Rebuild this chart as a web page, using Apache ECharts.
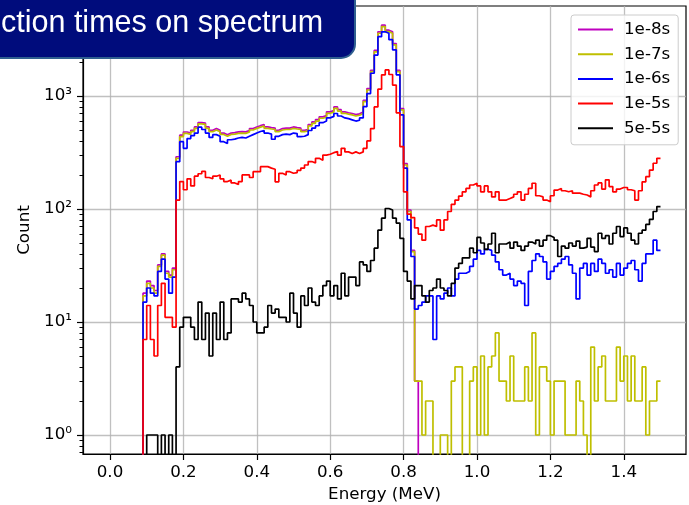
<!DOCTYPE html>
<html><head><meta charset="utf-8">
<script src="https://cdn.jsdelivr.net/npm/echarts@6/dist/echarts.min.js"></script>
<style>html,body{margin:0;padding:0;background:#fff}#c{width:689px;height:505px}</style>
</head><body><div id="c"></div>
<script>
// Histogram bins: left edges start at 0.09 MeV, width 0.01 MeV (0.09 ... 1.49)
const binStart = 0.09;
const binWidth = 0.01;

const seriesNames = ['1e-8s', '1e-7s', '1e-6s', '1e-5s', '5e-5s'];

const counts1e8 = [
  18, 23, 21, 19, 32, 40, 28, 26, 30, 290,
  450, 480, 470, 497, 532, 582, 576, 532, 497, 515,
  497, 470, 453, 470, 474, 481, 484, 481, 494, 515,
  532, 546, 559, 532, 525, 520, 497, 515, 520, 520,
  532, 525, 520, 497, 505, 559, 590, 618, 654, 670,
  724, 742, 800, 757, 724, 711, 700, 685, 695, 721,
  917, 1164, 1690, 2534, 3698, 4233, 3821, 3698, 2915, 1690,
  775, 252, 98, 43, 3, 0, 0, 0, 0, 0,
  0, 0, 0, 0, 0, 0, 0, 0, 0, 0,
  0, 0, 0, 0, 0, 0, 0, 0, 0, 0,
  0, 0, 0, 0, 0, 0, 0, 0, 0, 0,
  0, 0, 0, 0, 0, 0, 0, 0, 0, 0,
  0, 0, 0, 0, 0, 0, 0, 0, 0, 0,
  0, 0, 0, 0, 0, 0, 0, 0, 0, 0,
  0
];
const counts1e7 = [
  17, 22, 20, 18, 31, 39, 27, 25, 29, 281,
  437, 467, 457, 483, 517, 566, 560, 517, 483, 500,
  483, 457, 440, 457, 460, 467, 470, 467, 480, 500,
  517, 530, 543, 517, 510, 505, 483, 500, 505, 505,
  517, 510, 505, 483, 490, 543, 573, 600, 635, 650,
  703, 720, 777, 735, 703, 690, 680, 665, 675, 700,
  890, 1130, 1640, 2460, 3590, 4110, 3710, 3590, 2830, 1640,
  752, 245, 95, 42, 3, 3, 1, 2, 2, 0,
  0, 1, 1, 0, 3, 4, 4, 0, 0, 3,
  4, 1, 5, 1, 4, 5, 8, 3, 3, 2,
  5, 2, 2, 2, 4, 2, 8, 1, 4, 4,
  3, 1, 3, 3, 3, 1, 1, 1, 3, 2,
  1, 0, 6, 2, 4, 5, 2, 2, 2, 6,
  3, 5, 2, 5, 2, 2, 4, 1, 2, 2,
  3
];
const counts1e6 = [
  15, 20, 18, 17, 28, 36, 24, 18, 25, 262,
  394, 344, 420, 445, 470, 530, 505, 470, 430, 455,
  440, 394, 380, 410, 415, 425, 430, 425, 440, 455,
  470, 485, 495, 470, 460, 414, 440, 455, 460, 455,
  470, 465, 437, 440, 455, 495, 520, 545, 580, 600,
  640, 660, 700, 665, 640, 630, 615, 600, 610, 640,
  805, 1050, 1590, 2300, 3350, 3700, 3590, 3150, 2560, 1540,
  680, 230, 80, 38, 13, 14, 15, 17, 17, 7,
  17, 16, 18, 20, 17, 24, 27, 27, 28, 31,
  36, 43, 40, 44, 43, 39, 34, 29, 26, 27,
  24, 21, 23, 22, 14, 28, 35, 40, 38, 34,
  24, 28, 31, 33, 36, 38, 32, 27, 16, 30,
  33, 26, 33, 28, 36, 33, 27, 29, 25, 33,
  26, 30, 33, 35, 29, 23, 33, 40, 40, 53,
  43
];
const counts1e5 = [
  7, 14, 7, 5, 14, 22, 11, 11, 9, 120,
  175, 148, 185, 160, 195, 205, 215, 190, 185, 195,
  200, 185, 175, 180, 170, 165, 175, 200, 200, 190,
  214, 214, 237, 237, 230, 225, 174, 207, 200, 214,
  207, 210, 220, 230, 245, 263, 255, 281, 270, 300,
  305, 315, 322, 300, 344, 320, 310, 320, 310, 320,
  344, 400, 515, 800, 1150, 1540, 1700, 1550, 1250, 710,
  357, 142, 90, 84, 68, 60, 53, 70, 72, 70,
  80, 65, 80, 95, 110, 120, 130, 142, 152, 163,
  169, 160, 142, 160, 142, 128, 142, 120, 120, 124,
  128, 135, 142, 120, 135, 152, 169, 131, 128, 120,
  116, 131, 147, 152, 145, 142, 145, 138, 138, 135,
  133, 128, 145, 163, 170, 150, 181, 158, 142, 150,
  155, 155, 148, 145, 120, 145, 174, 193, 221, 254,
  281
];
const counts5e5 = [
  0, 1, 1, 1, 0, 1, 0, 1, 0, 4,
  9, 11, 11, 9, 7, 15, 7, 12, 5, 12,
  7, 15, 7, 8, 16, 16, 15, 18, 16, 14,
  10, 8, 8, 9, 14, 12, 13, 11, 11, 10,
  18, 12, 9, 17, 14, 20, 15, 14, 17, 21,
  23, 17, 21, 16, 27, 17, 25, 25, 21, 34,
  32, 28, 35, 45, 65, 83, 101, 98, 83, 75,
  55, 28, 23, 16, 21, 21, 17, 15, 19, 20,
  24, 20, 19, 17, 22, 30, 33, 37, 37, 45,
  41, 56, 50, 44, 49, 61, 41, 49, 49, 51,
  45, 51, 47, 43, 47, 51, 49, 53, 47, 53,
  58, 56, 53, 38, 47, 45, 50, 47, 52, 45,
  46, 55, 46, 42, 61, 55, 58, 49, 61, 70,
  57, 68, 61, 53, 49, 61, 65, 73, 81, 95,
  105
];

const xTicks = [0.0, 0.2, 0.4, 0.6, 0.8, 1.0, 1.2, 1.4];
const yTicks = [1, 10, 100, 1000];
const yTickLabels = ['10\u2070', '10\u00B9', '10\u00B2', '10\u00B3'];
const seriesColors = ['#bf00bf', '#bfbf00', '#0000ff', '#ff0000', '#000000'];

const allCounts = [counts1e8, counts1e7, counts1e6, counts1e5, counts5e5];

// zero counts sit below the visible log range (clipped like matplotlib)
const FLOOR = 0.1;
function stepPoints(counts) {
  const pts = [[+(binStart - binWidth).toFixed(4), FLOOR]];
  counts.forEach((c, i) => {
    pts.push([+(binStart + i * binWidth).toFixed(4), c > 0 ? c : FLOOR]);
  });
  const last = counts[counts.length - 1];
  pts.push([+(binStart + counts.length * binWidth).toFixed(4), last > 0 ? last : FLOOR]);
  return pts;
}

const yMinor = [];
for (let e = -1; e <= 3; e++) {
  for (let m = 2; m <= 9; m++) yMinor.push(m * Math.pow(10, e));
}

const FONT = 'DejaVu Sans';
const FS = 16.7;

const chart = echarts.init(document.getElementById('c'), null, {renderer: 'canvas'});
chart.setOption({
  animation: false,
  backgroundColor: '#ffffff',
  grid: {
    left: 83, right: 3, top: 6, bottom: 51,
    show: true, borderColor: '#000', borderWidth: 1.2,
    containLabel: false, outerBoundsMode: 'none'
  },
  legend: {
    orient: 'vertical', left: 571, top: 15,
    padding: [6, 8, 8, 6],
    itemWidth: 35, itemHeight: 14, itemGap: 7.7,
    backgroundColor: 'rgba(255,255,255,0.8)',
    borderColor: '#cccccc', borderWidth: 1, borderRadius: 3,
    selectedMode: false,
    itemStyle: {opacity: 0, borderWidth: 0, color: 'transparent'},
    textStyle: {fontSize: FS, color: '#000', fontFamily: FONT, padding: [0, 0, 0, 6]},
    data: seriesNames
  },
  xAxis: {
    type: 'value', min: -0.0736, max: 1.5695,
    name: 'Energy (MeV)', nameLocation: 'middle', nameGap: 30,
    nameTextStyle: {fontSize: FS, color: '#000', fontFamily: FONT},
    axisLine: {show: true, onZero: false, lineStyle: {color: '#000', width: 1.2}},
    axisTick: {show: true, customValues: xTicks, length: 6, lineStyle: {color: '#000', width: 1.2}},
    axisLabel: {customValues: xTicks, formatter: v => (+v).toFixed(1), margin: 10,
      fontSize: FS, color: '#000', fontFamily: FONT},
    splitLine: {show: true, lineStyle: {color: '#b0b0b0', width: 1.3, opacity: 0.8}}
  },
  yAxis: [{
    type: 'log', logBase: 10, min: 0.679, max: 6256,
    name: 'Count', nameLocation: 'middle', nameGap: 45,
    nameTextStyle: {fontSize: FS, color: '#000', fontFamily: FONT},
    axisLine: {show: true, onZero: false, lineStyle: {color: '#000', width: 1.2}},
    axisTick: {show: true, customValues: yTicks, length: 6, lineStyle: {color: '#000', width: 1.2}},
    axisLabel: {customValues: yTicks, margin: 11, fontSize: FS, color: '#000', fontFamily: FONT,
      formatter: v => {
        const idx = yTicks.findIndex(t => Math.abs(Math.log10(t) - Math.log10(v)) < 1e-6);
        return idx >= 0 ? yTickLabels[idx] : '';
      }},
    splitLine: {show: true, lineStyle: {color: '#b0b0b0', width: 1.3, opacity: 0.8}}
  }, {
    type: 'log', logBase: 10, min: 0.679, max: 6256, position: 'left',
    axisLine: {show: false, onZero: false},
    axisTick: {show: true, customValues: yMinor, length: 3.5, lineStyle: {color: '#000', width: 1}},
    axisLabel: {show: false},
    splitLine: {show: false}
  }],
  series: seriesNames.map((n, i) => ({
    name: n, type: 'line', step: 'end', symbol: 'none', showSymbol: false,
    clip: true, yAxisIndex: 0,
    data: stepPoints(allCounts[i]),
    lineStyle: {color: seriesColors[i], width: 1.7},
    itemStyle: {color: seriesColors[i]},
    emphasis: {disabled: true}
  })),
  graphic: [{
    type: 'rect', z: 100,
    shape: {x: -30, y: -30, width: 385, height: 88, r: 14},
    style: {fill: '#000c7c', stroke: '#2f5f8f', lineWidth: 2}
  }, {
    type: 'text', z: 101, x: 1, y: 24,
    style: {text: 'ction times on spectrum', fill: '#ffffff', fontSize: 30.5,
      fontFamily: '"Liberation Sans", Arial, sans-serif', verticalAlign: 'middle', align: 'left'}
  }]
});
</script>
</body></html>
